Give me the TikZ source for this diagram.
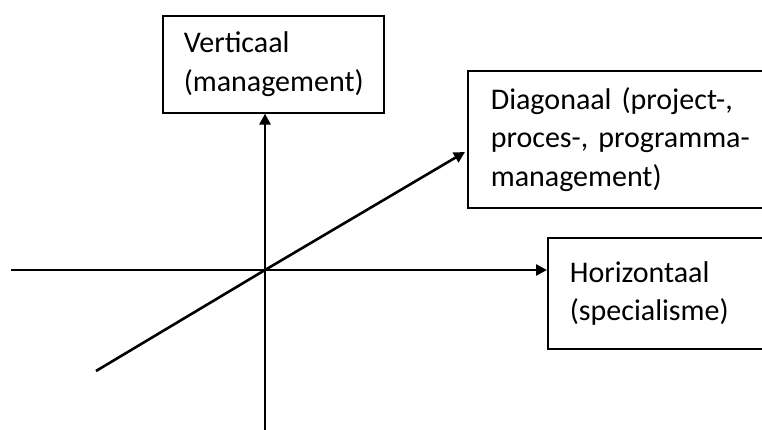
\documentclass[tikz,border=0pt]{standalone}
\usepackage{fontspec}
\setmainfont{Carlito}
\usetikzlibrary{arrows.meta}
% label text: 30pt Carlito with slightly tighter word spacing
\newcommand{\boxlabelfont}{\fontsize{30}{38.5}\selectfont\spaceskip=5.5pt\relax}
\begin{document}
\begin{tikzpicture}[x=1pt,y=-1pt,
  label box/.style={draw=black, line width=1.6pt, anchor=north west,
    align=left, font=\boxlabelfont, inner ysep=0pt},
  axis/.style={line width=2.6pt, -{Triangle[length=11pt,width=11pt]}},
  plain axis/.style={line width=2.6pt}]
  \useasboundingbox (0,0) rectangle (762,430);

  % label boxes
  \node[label box, minimum width=221, minimum height=97, inner xsep=21pt,
        text width=179] (vert) at (162,15) {Verticaal\\(management)};
  \node[label box, minimum width=330, minimum height=137, inner xsep=23pt,
        text width=284] (diag) at (467,70) {Diagonaal (project-,\\proces-, programma-\\management)};
  \node[label box, minimum width=220, minimum height=111, inner xsep=22pt,
        text width=176] (hor) at (547,237) {Horizontaal\\(specialisme)};

  % axis end points and origin
  \coordinate (o) at (265,270);
  \coordinate (left) at (11,270);
  \coordinate (bottom) at (265,432);
  \coordinate (diagstart) at (96,371);
  \coordinate (diagend) at (465,152);

  % axes
  \draw[plain axis] (left) -- (o);
  \draw[axis] (o) -- (hor.west |- o);
  \draw[plain axis] (bottom) -- (o);
  \draw[axis] (o) -- (vert.south -| o);
  \draw[plain axis] (diagstart) -- (o);
  \draw[axis] (o) -- (diagend);
\end{tikzpicture}
\end{document}
